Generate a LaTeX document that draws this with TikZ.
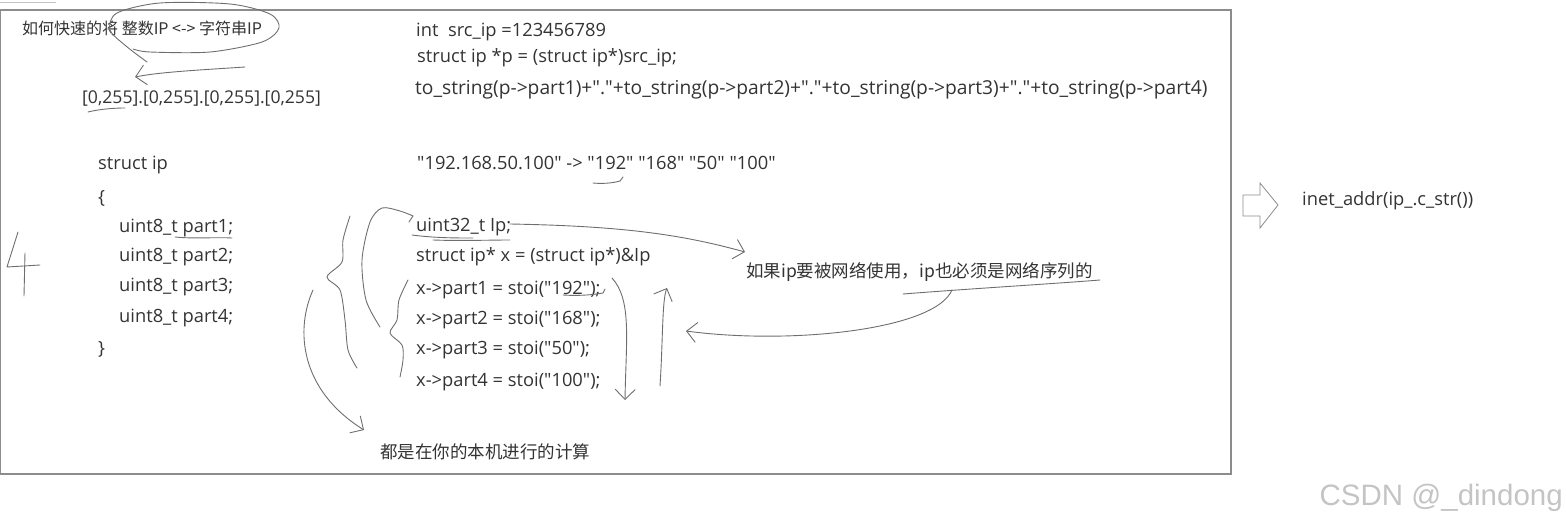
\documentclass[tikz,border=0pt]{standalone}
\usepackage{fontspec}
\setmainfont{Open Sans}
\newfontfamily\cjk{Noto Sans CJK SC}
\newfontfamily\signfont{Liberation Sans}
\usetikzlibrary{arrows.meta}

\definecolor{ink}{HTML}{333333}
\definecolor{pen}{HTML}{6E6E6E}
\definecolor{frame}{HTML}{8C8C8C}
\definecolor{faint}{HTML}{C4C4C4}

\newcommand\q{\textquotedbl}

\tikzset{
  code/.style={anchor=base west,inner sep=0pt,text=ink,font=\fontsize{18.3}{20}\selectfont},
  memo/.style={anchor=base west,inner sep=0pt,text=ink,font=\cjk\fontsize{17.5}{20}\selectfont},
  scrawl/.style={pen,line width=0.9pt,line cap=round,line join=round},
  barb/.style={scrawl,-{Straight Barb[length=10pt,width=20pt,line width=0.9pt]}},
}

\begin{document}
\begin{tikzpicture}[x=1pt,y=-1pt]
  \useasboundingbox (0,0) rectangle (1566,524);
  \draw[frame,line width=1.4pt] (0,10) rectangle (1231,474);
  \draw[faint,line width=1pt] (0,3)--(56,3);

  \node[memo,font=\cjk\fontsize{16}{18}\selectfont] (title) at (22,35) {如何快速的将 整数IP <-> 字符串IP};
  \node[code,font=\fontsize{17.6}{20}\selectfont] (range) at (82,104) {[0,255].[0,255].[0,255].[0,255]};
  \node[code] (srcip) at (416,37) {int\ \ src\_ip =123456789};
  \node[code] (cast) at (417,63) {struct ip *p = (struct ip*)src\_ip;};
  \node[code,font=\fontsize{19.2}{20}\selectfont] (tostr) at (415,95) {to\_string(p->part1)+\q.\q+to\_string(p->part2)+\q.\q+to\_string(p->part3)+\q.\q+to\_string(p->part4)};

  \node[code] (head) at (98,169) {struct ip};
  \node[code] (lbrace) at (98,203) {\{};
  \foreach \k/\y in {1/232,2/261,3/291,4/322} {
    \node[code] (field\k) at (119,\y) {uint8\_t part\k;};
  }
  \node[code] (rbrace) at (98,354) {\}};

  \node[code] (split) at (417,169) {\q192.168.50.100\q{} -> \q192\q{} \q168\q{} \q50\q{} \q100\q};
  \node[code] (ipvar) at (416,231) {uint32\_t Ip;};
  \node[code] (xptr) at (416,261) {struct ip* x = (struct ip*)\&Ip};
  \foreach \k/\y/\v in {1/294/192,2/324/168,3/354/50,4/386/100} {
    \node[code] (set\k) at (416,\y) {x->part\k{} = stoi(\q\v\q);};
  }

  \node[memo] (note) at (746,277) {如果ip要被网络使用，ip也必须是网络序列的};
  \node[memo] (local) at (380,458) {都是在你的本机进行的计算};
  \node[code] (inet) at (1302,205) {inet\_addr(ip\_.c\_str())};
  \node[anchor=base east,inner sep=0pt,text=faint,font=\signfont\fontsize{29.5}{32}\selectfont] (sign) at (1563,505) {CSDN @\_dindong};

  \draw[frame,line width=0.8pt] (1243,195)--(1260,195)--(1260,183)--(1278,205)--(1260,228)--(1260,216)--(1243,216)--cycle;

  \draw[scrawl] plot[smooth] coordinates {(147,62) (126,46) (110,30) (117,13) (160,3) (230,4) (270,14) (279,28) (262,42) (210,52) (150,52) (133,49)};
  \draw[barb] (245,67) .. controls (200,70) and (160,72) .. (135,77);
  \draw[scrawl] (88,112) .. controls (100,109) and (115,108) .. (125,108);

  \draw[scrawl] (18,232)--(7,267)--(40,265);
  \draw[scrawl] (25,253)--(24,296);
  \draw[scrawl] (175,237) .. controls (195,239) and (215,237) .. (232,238);

  \draw[scrawl] (593,183) .. controls (603,184) and (613,183) .. (620,181)--(623,177);
  \draw[scrawl] (412,235) .. controls (435,238) and (455,238) .. (473,238);
  \draw[scrawl] (433,240) .. controls (460,241) and (490,240) .. (510,240);
  \draw[scrawl] (563,295) .. controls (578,296) and (592,295) .. (603,293)--(605,289);

  \draw[scrawl] plot[smooth] coordinates {(408,280) (399,300) (397,320) (390,333) (402,345) (403,360) (400,377)};
  \draw[scrawl] plot[smooth] coordinates {(380,327) (366,300) (362,260) (370,222) (382,208) (400,211) (413,216)};
  \draw[scrawl] (413,216)--(409,222);
  \draw[scrawl] plot[smooth] coordinates {(350,216) (343,240) (342,262) (327,277) (340,290) (345,320) (348,350) (357,368)};
  \draw[barb] (313,290) .. controls (295,330) and (300,390) .. (364,430);

  \draw[barb] (510,224) .. controls (620,226) and (680,234) .. (745,252);
  \draw[scrawl] (903,294) .. controls (980,288) and (1050,284) .. (1100,280);
  \draw[barb] (952,290) .. controls (935,330) and (790,345) .. (686,331);
  \draw[barb] (612,278) .. controls (632,300) and (626,340) .. (625,400);
  \draw[barb] (660,386) .. controls (663,340) and (662,300) .. (667,288);
\end{tikzpicture}
\end{document}
